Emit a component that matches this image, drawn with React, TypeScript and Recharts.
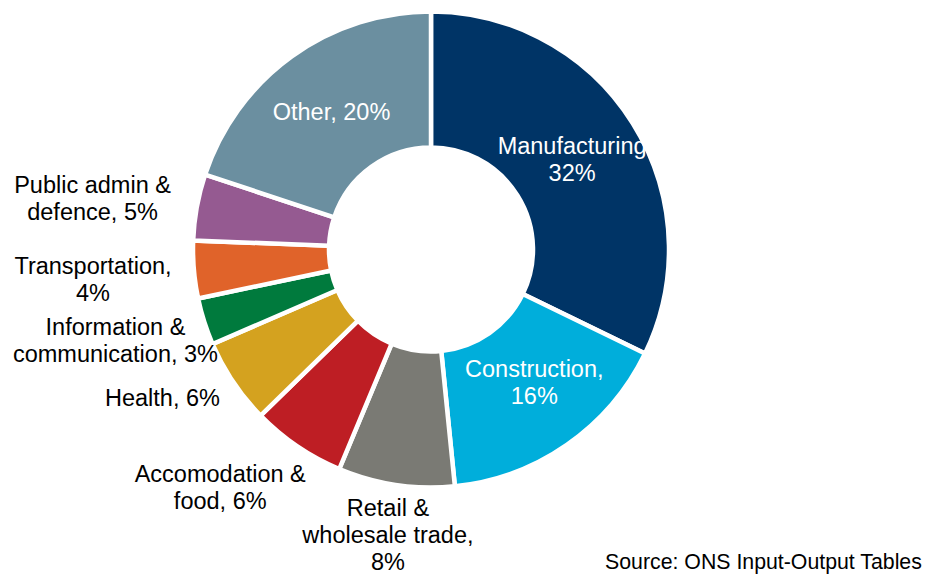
import { PieChart, Pie, Cell } from "recharts";

const CATEGORIES = [
  "Manufacturing",
  "Construction",
  "Retail & wholesale trade",
  "Accomodation & food",
  "Health",
  "Information & communication",
  "Transportation",
  "Public admin & defence",
  "Other",
];
// shares (labels below show the rounded figures)
const SHARES = [32.2, 16.2, 7.9, 6.4, 5.8, 3.2, 3.9, 4.5, 19.9];
const LABEL_LINES = [
  ["Manufacturing", "32%"],
  ["Construction,", "16%"],
  ["Retail &", "wholesale trade,", "8%"],
  ["Accomodation &", "food, 6%"],
  ["Health, 6%"],
  ["Information &", "communication, 3%"],
  ["Transportation,", "4%"],
  ["Public admin &", "defence, 5%"],
  ["Other, 20%"],
];

const COLORS = ["#003466", "#00AEDB", "#7A7A74", "#BE1E24", "#D4A21F", "#007A3D", "#E0632A", "#955A91", "#6B8FA0"];
const INSIDE = [true, true, false, false, false, false, false, false, true];
// manual nudges, like moved data labels in the original
const NUDGE: [number, number][] = [
  [-3, 0], [6, -6], [-1, 3], [-50, 1], [-31, -11], [-43, 4], [-53, 6], [-57, 0], [0, 0],
];

const FONT = '"Liberation Sans", Arial, sans-serif';
const RAD = Math.PI / 180;
const LINE_H = 27;

const data = CATEGORIES.map((name, i) => ({ name, value: SHARES[i] }));

function renderLabel(props: any) {
  const { cx, cy, midAngle, index } = props;
  const inside = INSIDE[index];
  const r = inside ? 170 : 286;
  const x = cx + r * Math.cos(-midAngle * RAD) + NUDGE[index][0];
  const y = cy + r * Math.sin(-midAngle * RAD) + NUDGE[index][1];
  const lines = LABEL_LINES[index];
  const top = y - ((lines.length - 1) * LINE_H) / 2;
  return (
    <text
      key={index}
      x={x}
      y={top}
      textAnchor="middle"
      dominantBaseline="central"
      fill={inside ? "#ffffff" : "#000000"}
      fontSize={23.5}
      fontFamily={FONT}
    >
      {lines.map((l, i) => (
        <tspan key={i} x={x} dy={i === 0 ? 0 : LINE_H}>
          {l}
        </tspan>
      ))}
    </text>
  );
}

export default function App() {
  return (
    <div style={{ position: "absolute", left: 0, top: 0, width: 926, height: 574, background: "#fff" }}>
      <PieChart width={926} height={574} margin={{ top: 0, right: 0, bottom: 0, left: 0 }}>
        <Pie
          data={data}
          dataKey="value"
          nameKey="name"
          cx={431}
          cy={249.5}
          innerRadius={102}
          outerRadius={238}
          startAngle={90}
          endAngle={-270}
          stroke="#ffffff"
          strokeWidth={4.5}
          label={renderLabel}
          labelLine={false}
          isAnimationActive={false}
        >
          {data.map((_, i) => (
            <Cell key={i} fill={COLORS[i]} />
          ))}
        </Pie>
        <text x={605} y={569} fontSize={21.3} fontFamily={FONT} fill="#000">
          Source: ONS Input-Output Tables
        </text>
      </PieChart>
    </div>
  );
}
